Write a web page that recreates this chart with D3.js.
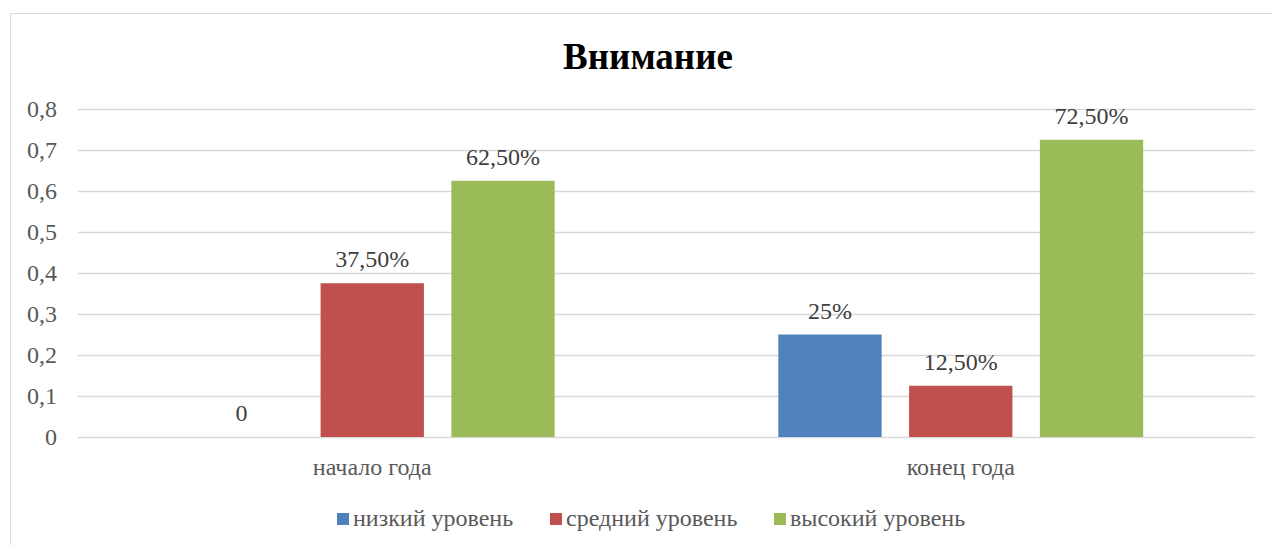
<!DOCTYPE html>
<html>
<head>
<meta charset="utf-8">
<script src="https://cdn.jsdelivr.net/npm/d3@7"></script>
<style>
  body { margin: 0; background: #fff; }
</style>
</head>
<body>
<svg id="chart" width="1272" height="545"></svg>
<script>
// categories and series
const categories = ['начало года', 'конец года'];
const seriesNames = ['низкий уровень', 'средний уровень', 'высокий уровень'];
const seriesColors = ['#4f81bd', '#c0504d', '#9bbb59'];
const lowValues = [0, 0.25];
const midValues = [0.375, 0.125];
const highValues = [0.625, 0.725];
const lowLabels = ['0', '25%'];
const midLabels = ['37,50%', '12,50%'];
const highLabels = ['62,50%', '72,50%'];
const yTicks = [0, 0.1, 0.2, 0.3, 0.4, 0.5, 0.6, 0.7, 0.8];

const seriesValues = [lowValues, midValues, highValues];
const seriesLabels = [lowLabels, midLabels, highLabels];
const FONT = '"Liberation Serif"';

const svg = d3.select('#chart');
const plot = { left: 78, right: 1255, top: 109, bottom: 437 };

// outer chart border (only left/top visible in the crop)
svg.append('rect')
  .attr('x', 10.5).attr('y', 13.5)
  .attr('width', 1400).attr('height', 700)
  .attr('fill', 'none')
  .attr('stroke', '#d9d9d9')
  .attr('stroke-width', 1);

// title
svg.append('text')
  .attr('x', 648).attr('y', 69)
  .attr('text-anchor', 'middle')
  .style('font-family', FONT)
  .attr('font-size', 37)
  .attr('font-weight', 'bold')
  .attr('fill', '#000')
  .text('Внимание');

const y = d3.scaleLinear().domain([0, 0.8]).range([plot.bottom, plot.top]);
const x0 = d3.scaleBand().domain(categories).range([plot.left, plot.right]);
const groupW = x0.bandwidth() * 0.62;
const x1 = d3.scaleBand().domain(d3.range(3)).range([-groupW / 2, groupW / 2]).paddingInner(0.21);

// gridlines + y labels
const yAxis = d3.axisLeft(y)
  .tickValues(yTicks)
  .tickSize(-(plot.right - plot.left))
  .tickPadding(21)
  .tickFormat(d => d3.format('.1f')(d).replace('.', ',').replace(/^0,0$/, '0'));

const gy = svg.append('g')
  .attr('transform', `translate(${plot.left},0)`)
  .call(yAxis);
gy.select('.domain').remove();
gy.selectAll('line').attr('stroke', '#d9d9d9').attr('stroke-width', 1.5);
gy.selectAll('text')
  .style('font-family', FONT)
  .attr('font-size', 24)
  .attr('fill', '#595959');

// bars
const groups = svg.append('g').selectAll('g')
  .data(categories)
  .join('g')
  .attr('transform', d => `translate(${x0(d) + x0.bandwidth() / 2},0)`);

groups.each(function (cat, ci) {
  const g = d3.select(this);
  seriesValues.forEach((vals, si) => {
    g.append('rect')
      .attr('x', x1(si))
      .attr('y', y(vals[ci]))
      .attr('width', x1.bandwidth())
      .attr('height', y(0) - y(vals[ci]))
      .attr('fill', seriesColors[si]);
    g.append('text')
      .attr('x', x1(si) + x1.bandwidth() / 2)
      .attr('y', y(vals[ci]) - 16)
      .attr('text-anchor', 'middle')
      .style('font-family', FONT)
      .attr('font-size', 24)
      .attr('fill', '#404040')
      .text(seriesLabels[si][ci]);
  });
});

// category labels
const xAxis = d3.axisBottom(x0).tickSize(0).tickPadding(0);
const gx = svg.append('g')
  .attr('transform', `translate(0,${plot.bottom})`)
  .call(xAxis);
gx.select('.domain').remove();
gx.selectAll('text')
  .attr('dy', 0)
  .attr('y', 38)
  .style('font-family', FONT)
  .attr('font-size', 24)
  .attr('fill', '#595959');

// legend
const legendX = [337, 550, 774];
const legend = svg.append('g').selectAll('g')
  .data(seriesNames)
  .join('g')
  .attr('transform', (d, i) => `translate(${legendX[i]},513)`);
legend.append('rect')
  .attr('width', 12).attr('height', 12)
  .attr('fill', (d, i) => seriesColors[i]);
legend.append('text')
  .attr('x', 16).attr('y', 13)
  .style('font-family', FONT)
  .attr('font-size', 24)
  .attr('fill', '#595959')
  .text(d => d);
</script>
</body>
</html>
